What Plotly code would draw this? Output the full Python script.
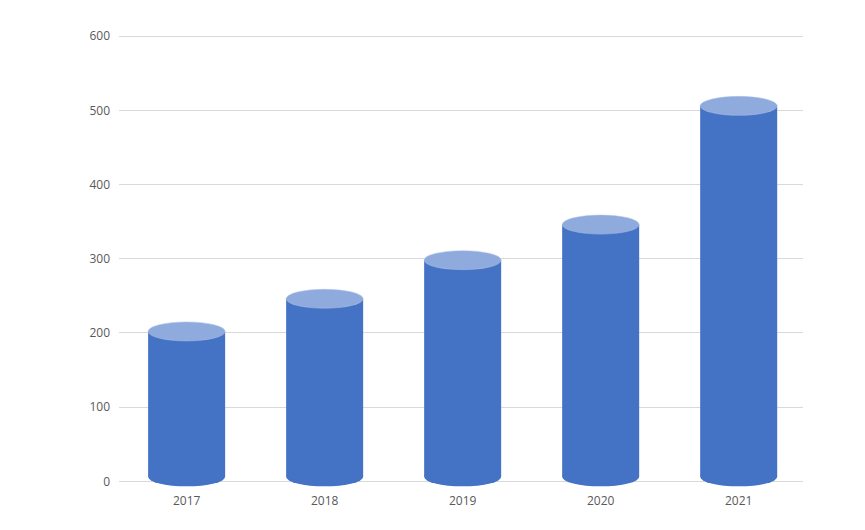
import plotly.graph_objects as go

# values
years = ["2017", "2018", "2019", "2020", "2021"]
values = [202, 246, 298, 346, 506]

body_color = "#4472C4"
top_color = "#8FAADC"
bar_width = 0.558
cap = 12.8        # half height of the cylinder caps, in y units
base_lift = 6     # bottom cap sits a little above zero (3D perspective)

x = list(range(len(years)))

fig = go.Figure()
# body of each cylinder runs from the bottom cap centre up to the value
fig.add_trace(go.Bar(
    x=x, y=[v - base_lift for v in values], base=base_lift, width=bar_width,
    marker=dict(color=body_color, line=dict(width=0)),
    customdata=values, hovertemplate="%{customdata}<extra></extra>",
))

# cylinder caps: dark bottom ellipse, light ellipse on top
for i, v in zip(x, values):
    fig.add_shape(type="circle", xref="x", yref="y",
                  x0=i - bar_width / 2, x1=i + bar_width / 2,
                  y0=base_lift - cap, y1=base_lift + cap,
                  fillcolor=body_color, line=dict(width=0), layer="above")
    fig.add_shape(type="circle", xref="x", yref="y",
                  x0=i - bar_width / 2, x1=i + bar_width / 2,
                  y0=v - cap, y1=v + cap,
                  fillcolor=top_color, line=dict(color="#A9BEE6", width=0.5),
                  layer="above")

# page body adds an 8px offset, so margins are reduced to compensate
fig.update_layout(
    width=865, height=530,
    margin=dict(l=111, r=70, t=27, b=46),
    plot_bgcolor="white", paper_bgcolor="white",
    showlegend=False,
    font=dict(family="Open Sans", size=12, color="#595959"),
)
fig.update_xaxes(
    tickvals=x, ticktext=years, range=[-0.49, 4.466],
    showgrid=False, zeroline=False, showline=False, ticks="",
    tickfont=dict(size=12, color="#595959"),
)
fig.update_yaxes(
    range=[-14.4, 601.5], tickvals=[0, 100, 200, 300, 400, 500, 600],
    showgrid=True, gridcolor="#D9D9D9", gridwidth=1,
    zeroline=False, showline=False, ticks="", ticklabelstandoff=8,
    tickfont=dict(size=12, color="#595959"),
)

fig.write_html("out.html")
